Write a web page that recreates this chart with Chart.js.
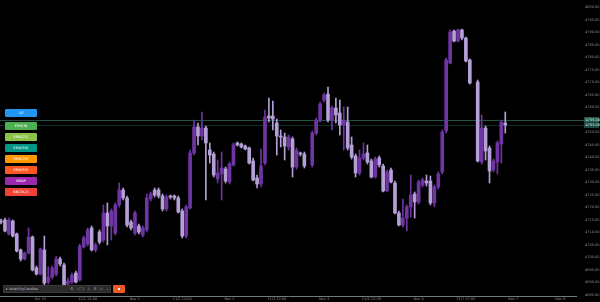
<!DOCTYPE html>
<html><head><meta charset="utf-8">
<script src="https://cdn.jsdelivr.net/npm/chart.js@4.4.0/dist/chart.umd.min.js"></script>
<style>
html,body{margin:0;padding:0;background:#000;width:600px;height:302px;overflow:hidden;font-family:"DejaVu Sans",sans-serif}
#wrap{position:relative;width:600px;height:302px}
#c{position:absolute;left:0;top:0}
.btn{position:absolute;left:5px;width:32px;height:8px;border-radius:1px;color:#fff;font-size:3.5px;line-height:8px;text-align:center;white-space:nowrap;overflow:hidden}
#bar{position:absolute;left:3px;top:285px;width:108px;height:8px;background:#2b2b2b;border:1px solid #3a3a3a;box-sizing:border-box;color:#bbb;font-size:3.5px;line-height:6px;padding-left:2px;white-space:nowrap}
#bar span.ic{position:absolute;top:0;color:#999;font-size:4px}
#go{position:absolute;left:113px;top:285px;width:12px;height:8px;background:#f05a22;border-radius:1px}
#go i{position:absolute;left:5px;top:3px;width:2px;height:2px;background:#fff}
</style></head>
<body><div id="wrap">
<canvas id="c" width="600" height="302"></canvas>
<div class="btn" style="top:109px;background:#2196f3">All</div>
<div class="btn" style="top:122px;background:#4caf50">EMA(9)</div>
<div class="btn" style="top:133px;background:#8bc34a">EMA(21)</div>
<div class="btn" style="top:144px;background:#009688">EMA(50)</div>
<div class="btn" style="top:155px;background:#ff9800">SMA(20)</div>
<div class="btn" style="top:166px;background:#ff5722">SMA(50)</div>
<div class="btn" style="top:177px;background:#9c27b0">VWAP</div>
<div class="btn" style="top:188px;background:#f44336">BB(20,2)</div>
<div id="bar">▸ VolatilityCandles
<span class="ic" style="left:66px">⚙</span><span class="ic" style="left:74px">⊂⊃</span><span class="ic" style="left:83px">⊥</span><span class="ic" style="left:90px">8</span><span class="ic" style="left:96px">∩</span><span class="ic" style="left:102px">⌄</span></div>
<div id="go"><i></i></div>
</div>
<script>
const opens = [4714.6,4715.0,4709.4,4714.6,4709.4,4703.0,4699.4,4701.8,4708.2,4695.8,4693.4,4703.0,4690.2,4692.2,4693.4,4699.4,4697.0,4689.4,4690.2,4693.8,4691.0,4704.2,4705.4,4711.8,4703.0,4710.2,4707.0,4717.8,4712.6,4709.8,4721.0,4727.0,4723.8,4714.2,4709.8,4712.6,4709.0,4711.0,4723.4,4727.0,4727.0,4724.6,4719.4,4724.6,4724.6,4723.8,4718.6,4708.6,4719.8,4741.8,4752.2,4748.6,4751.8,4743.0,4741.4,4731.4,4733.4,4735.4,4730.2,4737.0,4745.8,4745.4,4744.6,4743.8,4738.6,4731.8,4729.4,4737.8,4756.6,4756.6,4753.8,4748.6,4748.2,4744.2,4747.4,4736.2,4741.8,4741.4,null,4737.0,4749.8,4754.6,4763.0,4765.4,4755.0,4759.8,4757.8,4753.0,4754.2,4745.0,4740.6,4733.8,4739.8,4741.8,4738.6,4732.2,4739.8,4736.6,4726.6,4735.0,4729.8,4717.8,4713.0,4715.8,4720.2,4725.4,4722.2,4729.0,4730.6,4730.6,4721.8,4728.2,4734.2,4750.6,4777.8,4790.6,4786.6,4791.0,4787.8,4779.0,null,4770.2,4738.2,4751.8,4743.8,4735.0,4738.2,4745.4,4753.8];
const highs = [4715.4,4715.8,4715.8,4715.0,4709.8,4703.4,4702.2,4711.8,4708.6,4696.6,4703.8,4708.6,4696.2,4696.6,4700.6,4700.2,4697.8,4691.8,4693.8,4694.6,4705.4,4708.6,4711.8,4712.6,4705.8,4711.0,4721.0,4721.8,4719.4,4721.8,4729.8,4727.8,4724.6,4715.0,4718.6,4713.4,4712.6,4725.4,4726.2,4727.8,4727.8,4725.4,4725.0,4725.0,4725.0,4724.6,4719.4,4721.0,4743.0,4755.0,4753.8,4758.2,4752.6,4745.8,4742.2,4739.0,4742.2,4736.2,4738.2,4745.8,4746.2,4745.8,4745.0,4744.2,4739.8,4733.0,4743.4,4759.0,4763.8,4762.6,4755.4,4751.0,4749.8,4749.0,4748.2,4743.8,4742.2,4742.2,null,4750.6,4755.8,4762.2,4765.8,4768.2,4760.6,4763.8,4763.0,4760.2,4760.2,4748.2,4741.4,4743.0,4745.8,4745.0,4739.4,4740.2,4740.6,4737.4,4735.0,4735.8,4730.6,4718.6,4723.4,4721.0,4733.0,4726.2,4731.0,4731.8,4733.0,4732.6,4729.0,4734.2,4751.0,4779.8,4791.0,4791.0,4791.4,4791.4,4788.2,4779.4,null,4771.0,4757.0,4752.6,4744.6,4739.4,4746.6,4755.0,4758.2];
const lows = [4713.4,4710.2,4709.0,4708.2,4702.2,4698.6,4699.0,4701.4,4694.6,4693.0,4693.0,4689.0,4689.4,4691.4,4692.6,4696.6,4688.2,4687.8,4689.4,4689.8,4690.6,4703.8,4704.6,4702.6,4702.2,4705.4,4706.2,4705.0,4707.0,4709.0,4720.2,4723.0,4712.2,4711.0,4709.0,4709.4,4708.2,4710.2,4722.6,4724.2,4723.8,4718.6,4718.6,4723.4,4723.0,4717.8,4707.8,4707.8,4719.4,4741.0,4745.0,4747.0,4723.0,4737.8,4732.2,4729.8,4723.0,4729.8,4729.4,4736.6,4744.6,4743.8,4743.0,4737.4,4730.6,4727.8,4728.2,4737.0,4754.2,4751.0,4741.0,4744.2,4739.0,4743.0,4732.2,4735.4,4740.6,4735.8,null,4736.2,4749.0,4754.2,4762.2,4754.2,4751.0,4753.8,4749.0,4743.0,4743.0,4739.4,4732.2,4733.0,4739.0,4737.4,4731.8,4731.8,4736.2,4726.2,4726.2,4729.8,4717.4,4712.6,4712.2,4710.6,4716.2,4715.8,4721.4,4728.2,4728.6,4721.0,4720.2,4727.4,4733.4,4749.8,4777.4,4786.2,4786.2,4787.0,4778.2,4769.4,null,4738.2,4737.4,4739.0,4729.8,4734.2,4733.4,4737.8,4749.8];
const closes = [4714.2,4710.6,4715.0,4708.6,4702.6,4699.4,4701.8,4708.2,4695.0,4693.4,4703.4,4689.8,4692.2,4695.8,4699.4,4697.4,4689.0,4690.6,4693.0,4690.2,4704.6,4707.8,4711.0,4703.0,4705.0,4706.2,4717.8,4712.6,4718.6,4721.0,4727.0,4723.8,4713.0,4711.8,4717.8,4710.2,4711.8,4723.8,4725.4,4725.0,4724.6,4719.4,4724.2,4724.2,4723.8,4718.2,4708.6,4720.2,4741.8,4752.2,4748.6,4751.8,4745.8,4741.0,4733.0,4733.8,4735.8,4730.6,4737.4,4745.0,4745.0,4744.2,4743.4,4737.8,4731.0,4729.4,4736.6,4756.2,4755.8,4755.4,4748.6,4748.2,4744.6,4748.2,4736.2,4743.0,4741.4,4736.6,null,4749.8,4755.0,4761.4,4765.0,4755.0,4759.8,4757.0,4753.0,4755.0,4743.8,4740.2,4733.8,4739.8,4741.4,4738.2,4732.2,4739.4,4737.0,4726.6,4734.2,4730.2,4717.8,4713.0,4715.8,4720.2,4725.0,4722.2,4730.2,4731.0,4729.8,4721.8,4728.2,4733.4,4750.2,4779.0,4790.2,4786.6,4791.0,4787.8,4778.6,4769.8,null,4738.6,4751.8,4742.6,4734.6,4738.6,4745.8,4754.2,4753.0];
const xTickPositions = [10,22,34,46,58,70,82,94,106,118,130,142];
const xTickLabels = ["Oct 31","11/1 12:00","Nov 1","11/2 12:00","Nov 2","11/3 12:00","Nov 3","11/6 12:00","Nov 6","11/7 12:00","Nov 7","Nov 8"];
const priceLines = [4755.0, 4753.0];

const BULL = '#6f35a3', BEAR = '#b49fd6';
const wickData = [], bodyData = [], colors = [];
opens.forEach((o, i) => {
  if (o === null) return;
  wickData.push({x: i, y: [lows[i], highs[i]]});
  bodyData.push({x: i, y: [o, closes[i]]});
  colors.push(closes[i] >= o ? BULL : BEAR);
});

const noPad = s => { s.paddingTop = 0; s.paddingBottom = 0; s.paddingLeft = 0; s.paddingRight = 0; };

const priceLinePlugin = {
  id: 'priceLines',
  beforeDatasetsDraw(chart) {
    const {ctx, chartArea, scales} = chart;
    ctx.save();
    const cols = ['rgba(60,150,120,0.55)', 'rgba(45,100,85,0.45)'];
    priceLines.forEach((v, k) => {
      const y = Math.round(scales.y.getPixelForValue(v)) + 0.5;
      ctx.strokeStyle = cols[k]; ctx.lineWidth = 1;
      ctx.beginPath(); ctx.moveTo(chartArea.left, y); ctx.lineTo(chart.width, y); ctx.stroke();
    });
    ctx.restore();
  },
  afterDraw(chart) {
    const {ctx, scales} = chart;
    ctx.save();
    priceLines.forEach((v, k) => {
      const y = scales.y.getPixelForValue(v);
      ctx.fillStyle = k === 0 ? '#24594d' : '#1d4a40';
      ctx.fillRect(584, y - 3, 15, 6);
      ctx.fillStyle = '#d8efe8';
      ctx.font = '3.5px "DejaVu Sans"';
      ctx.textBaseline = 'middle'; ctx.textAlign = 'left';
      ctx.fillText(v.toFixed(2), 585.5, y);
    });
    ctx.restore();
  }
};

new Chart(document.getElementById('c'), {
  type: 'bar',
  data: {
    datasets: [
      {data: bodyData, backgroundColor: colors, barThickness: 3, minBarLength: 1, grouped: false, order: 1},
      {data: wickData, backgroundColor: colors, barThickness: 1, grouped: false, order: 2}
    ]
  },
  options: {
    responsive: false, animation: false, devicePixelRatio: 1,
    layout: {padding: 0},
    plugins: {legend: {display: false}, tooltip: {enabled: false}},
    scales: {
      x: {
        type: 'linear', min: -0.254, max: 145.95, offset: false,
        grid: {display: false, drawTicks: false},
        border: {display: true, color: '#777'},
        afterBuildTicks: s => { s.ticks = xTickPositions.map(v => ({value: v})); },
        afterFit: s => { s.height = 6; noPad(s); },
        ticks: {
          autoSkip: false, maxRotation: 0, padding: 1, color: '#8c8c8c',
          font: {size: 3.5, family: 'DejaVu Sans'},
          callback: v => { const k = xTickPositions.indexOf(v); return k >= 0 ? xTickLabels[k] : ''; }
        }
      },
      y: {
        position: 'right', min: 4684.6, max: 4803,
        grid: {display: false, drawTicks: false},
        border: {display: false},
        afterFit: s => { s.width = 24; noPad(s); },
        ticks: {
          stepSize: 5, includeBounds: false, padding: 9, color: '#8c8c8c',
          font: {size: 3.5, family: 'DejaVu Sans'},
          callback: v => v.toFixed(2)
        }
      }
    }
  },
  plugins: [priceLinePlugin]
});
</script>
</body></html>
